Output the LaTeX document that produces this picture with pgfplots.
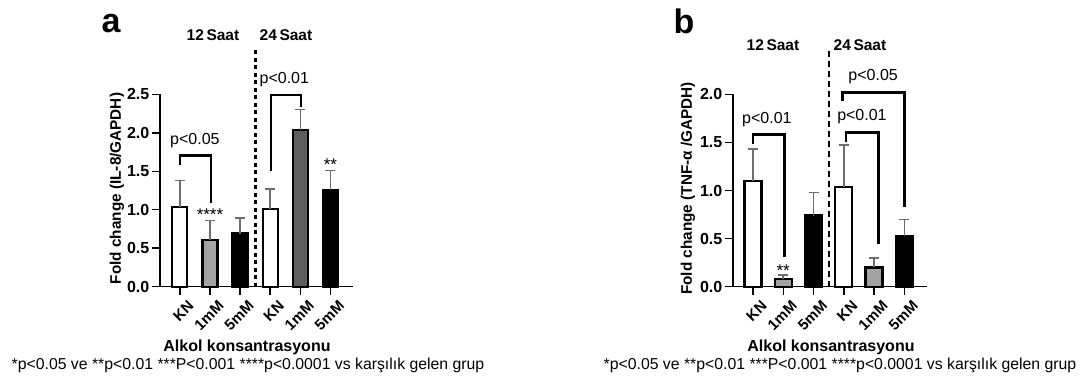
\documentclass[border=0pt]{standalone}
\usepackage{pgfplots}
\pgfplotsset{compat=1.18}
\usepackage{fontspec}
\setmainfont{Liberation Sans}
\definecolor{lgray}{HTML}{A3A3A3}
\definecolor{dgray}{HTML}{5E5E5E}
\definecolor{ebar}{HTML}{6E6E6E}
\begin{document}
\begin{tikzpicture}
\useasboundingbox (0pt,0pt) rectangle (1081pt,378pt);
\pgfplotsset{
  gpstyle/.style={
    scale only axis, clip=false,
    axis x line*=bottom, axis y line*=left,
    axis line style={line width=1.5pt, -},
    xtick={0,...,5}, xticklabels={KN,1mM,5mM,KN,1mM,5mM},
    tick style={line width=1.5pt, black},
    tick align=outside, major tick length=8pt,
    ymin=0, xmin=-0.66, xmax=5.75,
    yticklabel style={font=\fontsize{16}{18}\selectfont\bfseries, inner sep=2.5pt,
      /pgf/number format/assume math mode=true,
      /pgf/number format/fixed, /pgf/number format/fixed zerofill,
      /pgf/number format/precision=1},
    xticklabel style={font=\fontsize{15}{17}\selectfont\bfseries,
      rotate=45, anchor=north east, inner sep=0pt, xshift=2pt, yshift=-8.5pt},
  },
  gbar/.style 2 args={ybar, bar width=#2, bar shift=0pt, draw=black, line width=2.2pt, fill=#1,
     error bars/.cd, y dir=plus, y explicit,
     error bar style={line width=1.6pt, ebar},
     error mark options={rotate=90, line width=1.6pt, mark size=5pt, ebar}},
}
% ---------------- panel a ----------------
\begin{axis}[gpstyle, at={(160pt,91.3pt)}, anchor=south west,
  width=193pt, height=192.4pt, ymax=2.5, ytick={0,0.5,1,1.5,2,2.5}]
\addplot[gbar={white}{15pt}] coordinates {(0,1.04) +- (0,0.34)};
\addplot[gbar={lgray}{15pt}] coordinates {(1,0.61) +- (0,0.25)};
\addplot[gbar={black}{15pt}] coordinates {(2,0.69) +- (0,0.20)};
\addplot[gbar={white}{15pt}] coordinates {(3,1.01) +- (0,0.26)};
\addplot[gbar={dgray}{15pt}] coordinates {(4,2.04) +- (0,0.26)};
\addplot[gbar={black}{15pt}] coordinates {(5,1.26) +- (0,0.25)};
\draw[line width=3pt, dash pattern=on 4pt off 3.5pt] (2.5,0) -- (2.5,3.08);
\draw[line width=2.2pt, miter limit=4] (0,1.575) -- (0,1.706) -- (1.03,1.706) -- (1.03,1.09);
\node[font=\fontsize{16}{18}\selectfont] at (0.5,1.9) {p<0.05};
\draw[line width=2.2pt] (3.03,1.50) -- (3.03,2.49) -- (4.03,2.49) -- (4.03,2.34);
\node[font=\fontsize{16}{18}\selectfont] at (3.47,2.69) {p<0.01};
\node[font=\fontsize{17}{18}\selectfont] at (1,0.93) {****};
\node[font=\fontsize{17}{18}\selectfont] at (5,1.59) {**};
\end{axis}
% ---------------- panel b ----------------
\begin{axis}[gpstyle, at={(733pt,91.3pt)}, anchor=south west,
  width=194pt, height=192.4pt, ymax=2.0, ytick={0,0.5,1,1.5,2}]
\addplot[gbar={white}{17pt}] coordinates {(0,1.10) +- (0,0.33)};
\addplot[gbar={lgray}{17pt}] coordinates {(1,0.08) +- (0,0.04)};
\addplot[gbar={black}{17pt}] coordinates {(2,0.74) +- (0,0.24)};
\addplot[gbar={white}{17pt}] coordinates {(3,1.04) +- (0,0.43)};
\addplot[gbar={lgray}{17pt}] coordinates {(4,0.20) +- (0,0.10)};
\addplot[gbar={black}{17pt}] coordinates {(5,0.53) +- (0,0.17)};
\draw[line width=1.8pt, dash pattern=on 6pt off 4pt] (2.5,0) -- (2.5,2.45);
\draw[line width=2.8pt] (0,1.48) -- (0,1.58) -- (1.04,1.58) -- (1.04,0.31);
\node[font=\fontsize{16}{18}\selectfont] at (0.46,1.74) {p<0.01};
\draw[line width=2.8pt] (3.07,1.50) -- (3.07,1.60) -- (4.14,1.60) -- (4.14,0.44);
\node[font=\fontsize{16}{18}\selectfont] at (3.6,1.77) {p<0.01};
\draw[line width=2.8pt] (2.96,1.93) -- (2.96,2.02) -- (5.0,2.02) -- (5.0,0.83);
\node[font=\fontsize{16}{18}\selectfont] at (3.97,2.18) {p<0.05};
\node[font=\fontsize{17}{18}\selectfont] at (1,0.17) {**};
\end{axis}
% ---------------- texts ----------------
\node[font=\fontsize{34}{40}\selectfont\bfseries] at (111pt,354pt) {a};
\node[font=\fontsize{34}{40}\selectfont\bfseries] at (684pt,357pt) {b};
\node[font=\fontsize{15.5}{18}\selectfont\bfseries] at (213pt,343pt) {12\,Saat};
\node[font=\fontsize{15.5}{18}\selectfont\bfseries] at (286pt,343pt) {24\,Saat};
\node[font=\fontsize{15.5}{18}\selectfont\bfseries] at (773pt,333pt) {12\,Saat};
\node[font=\fontsize{15.5}{18}\selectfont\bfseries] at (860pt,333pt) {24\,Saat};
\node[rotate=90, font=\fontsize{15.3}{18}\selectfont\bfseries] at (117pt,189.5pt) {Fold change (IL-8/GAPDH)};
\node[rotate=90, font=\fontsize{15.3}{18}\selectfont\bfseries] at (688pt,189.5pt) {Fold change (TNF-α /GAPDH)};
\node[font=\fontsize{16}{18}\selectfont\bfseries] at (247pt,31pt) {Alkol konsantrasyonu};
\node[font=\fontsize{16}{18}\selectfont\bfseries] at (831pt,31pt) {Alkol konsantrasyonu};
\node[font=\fontsize{15.8}{18}\selectfont] at (248pt,13pt) {*p<0.05 ve **p<0.01 ***P<0.001 ****p<0.0001 vs karşılık gelen grup};
\node[font=\fontsize{15.8}{18}\selectfont] at (840pt,13pt) {*p<0.05 ve **p<0.01 ***P<0.001 ****p<0.0001 vs karşılık gelen grup};
\end{tikzpicture}
\end{document}
